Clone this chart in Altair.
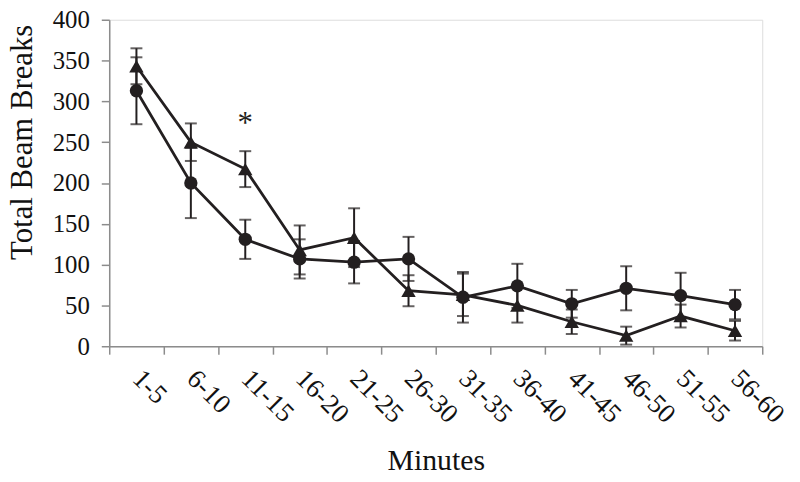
import altair as alt
import pandas as pd

minutes = ["1-5", "6-10", "11-15", "16-20", "21-25", "26-30",
           "31-35", "36-40", "41-45", "46-50", "51-55", "56-60"]
circle_mean = [313, 200, 131, 107, 103, 107, 60, 74, 52, 71, 62, 51]
circle_se = [41, 43, 24, 24, 26, 27, 31, 27, 17, 27, 28, 18]
triangle_mean = [343, 250, 217, 118, 133, 68, 63, 50, 30, 13, 37, 19]
triangle_se = [22, 23, 22, 30, 36, 19, 26, 21, 15, 11, 14, 12]
y_ticks = [0, 50, 100, 150, 200, 250, 300, 350, 400]
star_label = "*"
star_minute = "11-15"
star_value = 272

rows = []
for m, v, s in zip(minutes, circle_mean, circle_se):
    rows.append({"Minutes": m, "group": "circle", "mean": v, "lo": v - s, "hi": v + s})
for m, v, s in zip(minutes, triangle_mean, triangle_se):
    rows.append({"Minutes": m, "group": "triangle", "mean": v, "lo": v - s, "hi": v + s})
df = pd.DataFrame(rows)
star_df = pd.DataFrame({"Minutes": [star_minute], "value": [star_value], "label": [star_label]})

INK = "#231f20"
AXIS = "#8c8c8c"
FONT = "Liberation Serif"

x_enc = alt.X("Minutes:N", sort=minutes,
              scale=alt.Scale(type="band", paddingInner=0, paddingOuter=0),
              axis=alt.Axis(title="Minutes", labelAngle=45, labelAlign="left",
                            labelBaseline="top", labelPadding=11, labelOffset=9,
                            tickBand="extent",
                            tickSize=8, tickColor=AXIS, domainColor=AXIS,
                            tickWidth=1.5, domainWidth=1.5,
                            labelFont=FONT, labelFontSize=27, labelColor="#111",
                            titleFont=FONT, titleFontSize=30, titleFontWeight="normal",
                            titleColor="#111", titleY=115, titleBaseline="middle"))
y_scale = alt.Scale(domain=[0, 400], nice=False)
y_axis = alt.Axis(title="Total Beam Breaks", values=y_ticks, grid=False,
                  tickSize=8, tickColor=AXIS, domainColor=AXIS, tickWidth=1.5,
                  domainWidth=1.5, labelPadding=12,
                  labelFont=FONT, labelFontSize=25, labelColor="#111",
                  titleFont=FONT, titleFontSize=31, titleFontWeight="normal",
                  titleColor="#111", titleX=-87, titleY=123, titleAngle=-90,
                  titleAlign="center", titleBaseline="middle")

base = alt.Chart(df)

rules = base.mark_rule(color=INK, strokeWidth=2).encode(
    x=x_enc, y=alt.Y("lo:Q", scale=y_scale, axis=y_axis), y2="hi:Q",
    detail="group:N")
caps_lo = base.mark_tick(color=INK, thickness=2, size=12, orient="horizontal").encode(
    x=x_enc, y=alt.Y("lo:Q", scale=y_scale, axis=y_axis), detail="group:N")
caps_hi = base.mark_tick(color=INK, thickness=2, size=12, orient="horizontal").encode(
    x=x_enc, y=alt.Y("hi:Q", scale=y_scale, axis=y_axis), detail="group:N")
lines = base.mark_line(color=INK, strokeWidth=2.8).encode(
    x=x_enc, y=alt.Y("mean:Q", scale=y_scale, axis=y_axis), detail="group:N")
points = base.mark_point(filled=True, opacity=1, color=INK).encode(
    x=x_enc, y=alt.Y("mean:Q", scale=y_scale, axis=y_axis),
    shape=alt.Shape("group:N", scale=alt.Scale(domain=["circle", "triangle"],
                                               range=["circle", "triangle-up"]),
                    legend=None),
    size=alt.Size("group:N", scale=alt.Scale(domain=["circle", "triangle"],
                                             range=[180, 210]), legend=None))
star = alt.Chart(star_df).mark_text(font=FONT, fontSize=31, color=INK,
                                     baseline="middle").encode(
    x=x_enc, y=alt.Y("value:Q", scale=y_scale, axis=y_axis), text="label:N")

chart = alt.layer(rules, caps_lo, caps_hi, lines, points, star).properties(
    width=658, height=329,
    autosize=alt.AutoSizeParams(type="none"),
    padding={"left": 102, "top": 10, "right": 30, "bottom": 140},
).configure_view(stroke=None).configure(background="white")

chart.save("out.html", embed_options={"renderer": "svg", "actions": False})
